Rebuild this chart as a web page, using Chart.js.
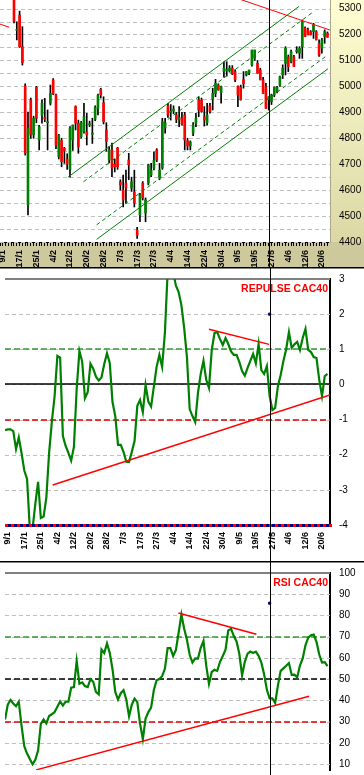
<!DOCTYPE html>
<html>
<head>
<meta charset="UTF-8">
<title>CAC40 - Repulse - RSI</title>
<script src="https://cdn.jsdelivr.net/npm/chart.js@4"></script>
<style>
  html, body { margin: 0; padding: 0; background: #fff; }
  body { width: 364px; height: 775px; position: relative; overflow: hidden; }
  canvas { position: absolute; left: 0; }
  #price { top: 0; }
  #repulse { top: 267px; }
  #rsi { top: 561px; }
</style>
</head>
<body>
<canvas id="price" width="364" height="267"></canvas>
<canvas id="repulse" width="364" height="294"></canvas>
<canvas id="rsi" width="364" height="214"></canvas>
<script>
// trading days, 8/1 -> 24/6
const days = [
  '8/1','9/1','10/1','11/1','14/1','15/1','16/1','17/1','18/1','21/1','22/1','23/1','24/1','25/1','28/1','29/1','30/1','31/1',
  '1/2','4/2','5/2','6/2','7/2','8/2','11/2','12/2','13/2','14/2','15/2','18/2','19/2','20/2','21/2','22/2','25/2','26/2','27/2','28/2','29/2',
  '3/3','4/3','5/3','6/3','7/3','10/3','11/3','12/3','13/3','14/3','17/3','18/3','19/3','20/3','25/3','26/3','27/3','28/3','31/3',
  '1/4','2/4','3/4','4/4','7/4','8/4','9/4','10/4','11/4','14/4','15/4','16/4','17/4','18/4','21/4','22/4','23/4','24/4','25/4','28/4','29/4','30/4',
  '2/5','5/5','6/5','7/5','8/5','9/5','12/5','13/5','14/5','15/5','16/5','19/5','20/5','21/5','22/5','23/5','26/5','27/5','28/5','29/5','30/5',
  '2/6','3/6','4/6','5/6','6/6','9/6','10/6','11/6','12/6','13/6','16/6','17/6','18/6','19/6','20/6','23/6','24/6'
];
const shownDays = ['9/1','17/1','25/1','4/2','12/2','20/2','28/2','7/3','17/3','27/3','4/4','14/4','22/4','30/4','9/5','19/5','27/5','4/6','12/6','20/6'];

const opens = [5520,5500,5440,5460,5400,5370,5216,5275,5153,5001,4543,4948,4813,4996,4793,4890,4880,4860,4935,5025,
  4967,4729,4791,4761,4720,4680,4793,4922,4858,4806,4825,4825,4852,4815,4873,4915,4989,4937,4832,4716,
  4755,4700,4762,4632,4600,4627,4716,4608,4593,4446,4504,4627,4512,4627,4658,4685,4755,4647,4685,4840,
  4924,4900,4905,4890,4870,4877,4890,4790,4770,4819,4857,4948,4948,4883,4860,4925,4950,4973,5005,4976,
  5057,5060,5060,5070,5057,5000,4997,5026,5044,5051,5083,5108,5089,5063,5025,4998,4948,4941,4967,4980,
  5005,5044,5089,5114,5095,5114,5134,5128,5153,5224,5218,5211,5211,5211,5166,5147,5192,5205];
const highs = [5560,5530,5480,5470,5420,5380,5249,5290,5230,5010,4901,4955,4885,5000,4850,4948,4954,4909,5005,5030,
  4970,4815,4800,4765,4740,4845,4851,4925,4870,4865,4935,4896,4866,4877,4925,4970,4993,4960,4860,4768,
  4781,4720,4765,4640,4658,4677,4742,4650,4677,4457,4588,4633,4570,4700,4703,4748,4760,4703,4877,4877,
  4935,4930,4925,4900,4922,4900,4900,4800,4790,4860,4896,4960,4955,4922,4935,4935,4993,5027,5010,5001,
  5095,5095,5080,5080,5064,5002,5005,5057,5057,5063,5140,5140,5100,5070,5035,5012,4960,4970,4998,5000,
  5040,5083,5153,5121,5140,5120,5153,5153,5256,5230,5225,5215,5243,5215,5179,5185,5218,5210];
const lows = [5480,5420,5400,5380,5345,5245,5179,5150,5082,4735,4504,4800,4800,4860,4755,4858,4864,4755,4928,4968,
  4760,4720,4690,4703,4680,4650,4753,4832,4742,4800,4820,4774,4845,4780,4868,4890,4955,4855,4750,4705,
  4652,4670,4680,4600,4535,4550,4640,4595,4535,4414,4478,4562,4478,4620,4652,4678,4710,4640,4680,4820,
  4880,4870,4895,4860,4845,4850,4755,4755,4755,4810,4845,4883,4900,4847,4850,4897,4909,4960,4985,4935,
  5035,5040,5055,5045,5018,4922,4947,4993,5040,5045,5078,5100,5050,5025,4973,4915,4909,4930,4960,4975,
  5000,5030,5044,5057,5090,5076,5128,5108,5108,5192,5198,5198,5185,5179,5115,5128,5166,5190];
const closes = [5500,5440,5460,5400,5360,5250,5220,5153,5091,4742,4838,4813,4877,4877,4845,4935,4874,4864,4973,4971,
  4774,4812,4710,4753,4700,4838,4851,4858,4768,4860,4883,4813,4856,4820,4919,4965,4968,4864,4787,4755,
  4685,4690,4690,4620,4562,4608,4697,4632,4550,4426,4581,4570,4562,4697,4677,4716,4716,4677,4864,4860,
  4890,4905,4912,4873,4880,4855,4793,4770,4785,4851,4877,4909,4903,4870,4890,4903,4973,5012,4986,4999,
  5070,5065,5070,5048,5025,4967,4948,5010,5057,5063,5140,5140,5050,5025,4973,4915,4960,4967,4996,4996,
  5037,5070,5147,5076,5134,5076,5140,5147,5250,5192,5199,5199,5237,5179,5121,5179,5211,5189];
const priceTicks = [4400,4450,4500,4550,4600,4650,4700,4750,4800,4850,4900,4950,5000,5050,5100,5150,5200,5250,5300];

// channel and trend lines: [day index, price]
const channelTop = [[24.3, 4650], [106.8, 5308]];
const channelTopInner = [[29.8, 4632], [111.5, 5284]];
const channelLowInner = [[34.5, 4466], [116.2, 5114]];
const channelLow = [[34.5, 4410], [117.2, 5068]];
const priceResistance = [[80, 5357], [117.9, 5217]];
const priceOldResistance = [[0, 5240], [3.3, 5228]];

const repulse = [-1.30,-1.28,-1.28,-1.33,-1.84,-1.51,-1.95,-2.45,-2.69,-4.1,-4.1,-3.4,-2.77,-3.8,-3.76,-3.22,-1.95,-1.06,-0.33,0.81,
  0.76,-1.47,-1.75,-1.95,-2.17,-1.78,-0.13,0.95,0.65,-0.39,-0.22,0.59,0.45,0.22,0.11,0.2,0.58,0.89,0.61,-0.5,
  -0.9,-1.72,-1.72,-1.92,-2.2,-2.21,-1.92,-1.61,-0.61,-0.44,-0.79,-0.02,-0.49,-0.63,-0.06,0.5,0.84,0.5,1.46,3.2,
  3.3,3.2,2.81,2.63,2.25,1.6,0.78,-0.7,-0.9,-1.07,-0.24,0.3,0.67,0.13,-0.1,0.98,1.46,1.49,1.29,1.12,
  1.32,1.15,0.94,0.84,0.84,0.64,0.38,0.25,0.47,0.67,0.87,0.6,1.15,0.41,0.3,0.52,-0.33,-0.73,-0.67,-0.05,
  0.27,0.67,1.0,1.49,1.04,1.14,1.21,0.98,1.32,1.58,0.98,0.92,0.78,0.75,0.13,-0.33,0.24,0.3];
const repulseTicks = [-4,-3,-2,-1,0,1,2,3];
const repulseSupport = [[17.3, -2.86], [117.9, -0.30]];
const repulseResistance = [[74.0, 1.57], [95.8, 1.14]];

const rsi = [31,38,40.2,38.6,37.3,39.4,28.2,18.4,15,12.4,9.9,12,16.4,29,31,29.2,32.7,33.5,34.5,37,
  39.5,37.6,39.4,39.4,46,46.3,58.6,47.8,48.5,46.8,46.3,50,48.8,44,42.8,64,62.3,66.8,62.4,54.7,
  44,40.4,43.4,44.8,40.5,32.5,38,40.9,39.2,29,21.8,31.5,34.5,36.6,44.9,49.5,50.1,51.4,54.9,64.6,
  64.6,60.9,63.8,72,80.4,73.8,68.6,61.5,57.8,59.8,59.7,64.8,68,56.4,47.8,53.4,54.4,53.9,58.2,60.9,
  63.9,73,73.7,70.3,67.8,62,51.8,58.2,62,63,62.3,63,61,57.8,52.3,45,41,41,38.8,47,
  53.9,55.1,56.3,57.6,52,52.1,50.9,56.4,59.8,66,69.6,70.7,71,67.6,61.6,57.8,58,56.2];
const rsiTicks = [10,20,30,40,50,60,70,80,90,100];
const rsiSupport = [[11.3, 7.3], [110.3, 42.0]];
const rsiResistance = [[62.9, 81.2], [91.2, 71.2]];

const markDay = 96;
const repulseMark = 2.0;
const rsiMark = 85.8;

Chart.defaults.font.family = "'Liberation Sans', Arial, sans-serif";
Chart.defaults.color = '#000';

const FONT_Y = { size: 10 };
const FONT_X = { size: 9, weight: 'bold' };
const GREEN = '#008000';
const RED = '#ff0000';
const GRID = '#c0c0c0';

const pts = (pairs) => pairs.map(([x, y]) => ({ x, y }));
const series = (vals) => vals.map((y, x) => ({ x, y }));

const xAxis = (height, showLabels, tickMarks) => ({
  type: 'linear',
  min: 0,
  max: 117.9,
  offset: false,
  display: true,
  afterBuildTicks: (s) => { s.ticks = days.map((d, i) => ({ value: i })); },
  afterFit: (s) => { s.paddingLeft = 0; s.paddingRight = 0; s.height = height; },
  grid: {
    display: tickMarks, drawOnChartArea: false, drawTicks: tickMarks,
    tickLength: 4, tickColor: '#000', tickWidth: 1, offset: false
  },
  border: { display: tickMarks, color: '#000', width: 1 },
  ticks: {
    display: showLabels,
    autoSkip: false, minRotation: 90, maxRotation: 90,
    padding: tickMarks ? 4 : 7,
    font: FONT_X,
    callback: (v) => shownDays.includes(days[v]) ? days[v] : ''
  }
});

const yAxis = (min, max, tickVals, borderColor, borderWidth) => ({
  type: 'linear',
  position: 'right',
  min, max,
  afterBuildTicks: (s) => { s.ticks = tickVals.map(v => ({ value: v })); },
  afterFit: (s) => { s.width = 34; s.paddingTop = 0; s.paddingBottom = 0; },
  grid: { display: false, drawTicks: false },
  border: { display: true, color: borderColor, width: borderWidth },
  ticks: { padding: 9, font: FONT_Y, callback: (v) => String(v) }
});

// horizontal levels (dashed grid and reference lines) drawn through the y scale
function levelPlugin(gridVals, below, above) {
  const draw = (chart, list) => {
    const { ctx, chartArea: a, scales: { y } } = chart;
    list.forEach(l => {
      const w = l.width;
      let py = Math.round(y.getPixelForValue(l.value));
      if (w % 2 === 1) py += 0.5;
      ctx.save();
      ctx.strokeStyle = l.color;
      ctx.lineWidth = w;
      ctx.setLineDash(l.dash || []);
      ctx.beginPath();
      ctx.moveTo(a.left, py);
      ctx.lineTo(a.right + (l.extend || 0), py);
      ctx.stroke();
      ctx.restore();
    });
  };
  const grid = gridVals.map(v => ({ value: v, color: GRID, width: 1, dash: [4, 3] }));
  return {
    id: 'levels',
    beforeDatasetsDraw: (chart) => draw(chart, grid.concat(below)),
    afterDatasetsDraw: (chart) => draw(chart, above)
  };
}

// vertical cursor line through the whole panel
const markerPlugin = {
  id: 'marker',
  afterDraw(chart) {
    const { ctx, scales: { x } } = chart;
    const px = Math.round(x.getPixelForValue(markDay)) + 0.5;
    ctx.save();
    ctx.strokeStyle = '#000';
    ctx.lineWidth = 1;
    ctx.beginPath();
    ctx.moveTo(px, 0);
    ctx.lineTo(px, chart.height);
    ctx.stroke();
    ctx.restore();
  }
};

// black separator along the top edge of lower panels
const topRulePlugin = {
  id: 'topRule',
  afterDraw(chart) {
    const { ctx } = chart;
    ctx.save();
    ctx.fillStyle = '#000';
    ctx.fillRect(0, 0, chart.width, 1.5);
    ctx.restore();
  }
};

const titlePlugin = (text) => ({
  id: 'panelTitle',
  afterDatasetsDraw(chart) {
    const { ctx, chartArea: a } = chart;
    ctx.save();
    ctx.font = "bold 10.5px 'Liberation Sans', Arial, sans-serif";
    ctx.fillStyle = RED;
    ctx.textAlign = 'right';
    ctx.textBaseline = 'alphabetic';
    ctx.fillText(text, a.right - 2, a.top + 13);
    ctx.restore();
  }
});

// coloured frame of the price panel
const framePlugin = {
  id: 'frame',
  beforeDraw(chart) {
    const { ctx, chartArea: a, width, height } = chart;
    ctx.save();
    const g = ctx.createLinearGradient(0, 0, 0, a.bottom);
    g.addColorStop(0, '#fffed2');
    g.addColorStop(1, '#dcd8a6');
    ctx.fillStyle = g;
    ctx.fillRect(a.right, 0, width - a.right, a.bottom);
    ctx.fillStyle = '#cdc99c';
    ctx.fillRect(0, a.bottom, width, height - a.bottom);
    ctx.restore();
  }
};

const lineSet = (data, color, width, dash) => ({
  type: 'line',
  data: pts(data),
  borderColor: color,
  borderWidth: width,
  borderDash: dash || [],
  pointRadius: 0,
  tension: 0,
  fill: false,
  order: 0
});

const common = {
  responsive: false,
  devicePixelRatio: 1,
  animation: false,
  events: [],
  plugins: { legend: { display: false }, tooltip: { enabled: false } }
};

// ---------- price panel ----------
const bodyColors = opens.map((o, i) => closes[i] >= o ? GREEN : RED);
new Chart(document.getElementById('price'), {
  type: 'bar',
  data: {
    datasets: [
      lineSet(channelTop, GREEN, 1),
      lineSet(channelTopInner, GREEN, 1, [4, 3]),
      lineSet(channelLowInner, GREEN, 1, [4, 3]),
      lineSet(channelLow, GREEN, 1),
      lineSet(priceResistance, RED, 1),
      lineSet(priceOldResistance, RED, 1),
      {
        data: opens.map((o, i) => ({ x: i, y: [o, closes[i]] })),
        backgroundColor: bodyColors,
        barThickness: 2,
        minBarLength: 1,
        grouped: false,
        order: 1
      },
      {
        data: lows.map((l, i) => ({ x: i, y: [l, highs[i]] })),
        backgroundColor: '#000',
        barThickness: 1,
        grouped: false,
        order: 2
      }
    ]
  },
  options: {
    ...common,
    layout: { padding: 0 },
    scales: {
      x: xAxis(25, true, true),
      y: yAxis(4400, 5333, priceTicks, '#a9a68a', 1)
    }
  },
  plugins: [levelPlugin(priceTicks, [], []), framePlugin, markerPlugin]
});

// ---------- repulse panel ----------
new Chart(document.getElementById('repulse'), {
  type: 'line',
  data: {
    datasets: [
      lineSet(repulseSupport, RED, 1.5),
      lineSet(repulseResistance, RED, 1.5),
      {
        type: 'scatter',
        data: [{ x: markDay, y: repulseMark }],
        backgroundColor: '#000080', borderColor: '#000080',
        pointStyle: 'rect', pointRadius: 1.5, order: 0
      },
      {
        data: series(repulse),
        borderColor: GREEN, borderWidth: 2.2,
        pointRadius: 0, tension: 0, fill: false, order: 1
      }
    ]
  },
  options: {
    ...common,
    layout: { padding: { top: 12 } },
    scales: {
      x: xAxis(36, true, false),
      y: yAxis(-4, 3, repulseTicks, '#000', 2)
    }
  },
  plugins: [
    levelPlugin(
      repulseTicks,
      [
        { value: 3, color: '#808080', width: 2 },
        { value: 1, color: '#339933', width: 1.5, dash: [6, 3] },
        { value: 0, color: '#000', width: 1.5 },
        { value: -1, color: '#e00000', width: 1.5, dash: [6, 3] }
      ],
      [
        { value: -4, color: '#000080', width: 3, extend: 2 },
        { value: -4, color: RED, width: 3, dash: [3, 3], extend: 2 }
      ]
    ),
    titlePlugin('REPULSE CAC40'),
    markerPlugin,
    topRulePlugin
  ]
});

// ---------- RSI panel ----------
new Chart(document.getElementById('rsi'), {
  type: 'line',
  data: {
    datasets: [
      lineSet(rsiSupport, RED, 1.5),
      lineSet(rsiResistance, RED, 1.5),
      {
        type: 'scatter',
        data: [{ x: markDay, y: rsiMark }],
        backgroundColor: '#000080', borderColor: '#000080',
        pointStyle: 'rect', pointRadius: 1.5, order: 0
      },
      {
        data: series(rsi),
        borderColor: GREEN, borderWidth: 2.2,
        pointRadius: 0, tension: 0, fill: false, order: 1
      }
    ]
  },
  options: {
    ...common,
    layout: { padding: { top: 12 } },
    scales: {
      x: { ...xAxis(0, false, false), display: false },
      y: yAxis(7.25, 100, rsiTicks, '#000', 2)
    }
  },
  plugins: [
    levelPlugin(
      rsiTicks,
      [
        { value: 100, color: '#808080', width: 2 },
        { value: 70, color: '#339933', width: 1.5, dash: [6, 3] },
        { value: 50, color: '#000', width: 1.5, dash: [6, 3] },
        { value: 30, color: '#e00000', width: 1.5, dash: [6, 3] }
      ],
      []
    ),
    titlePlugin('RSI CAC40'),
    markerPlugin,
    topRulePlugin
  ]
});
</script>
</body>
</html>
